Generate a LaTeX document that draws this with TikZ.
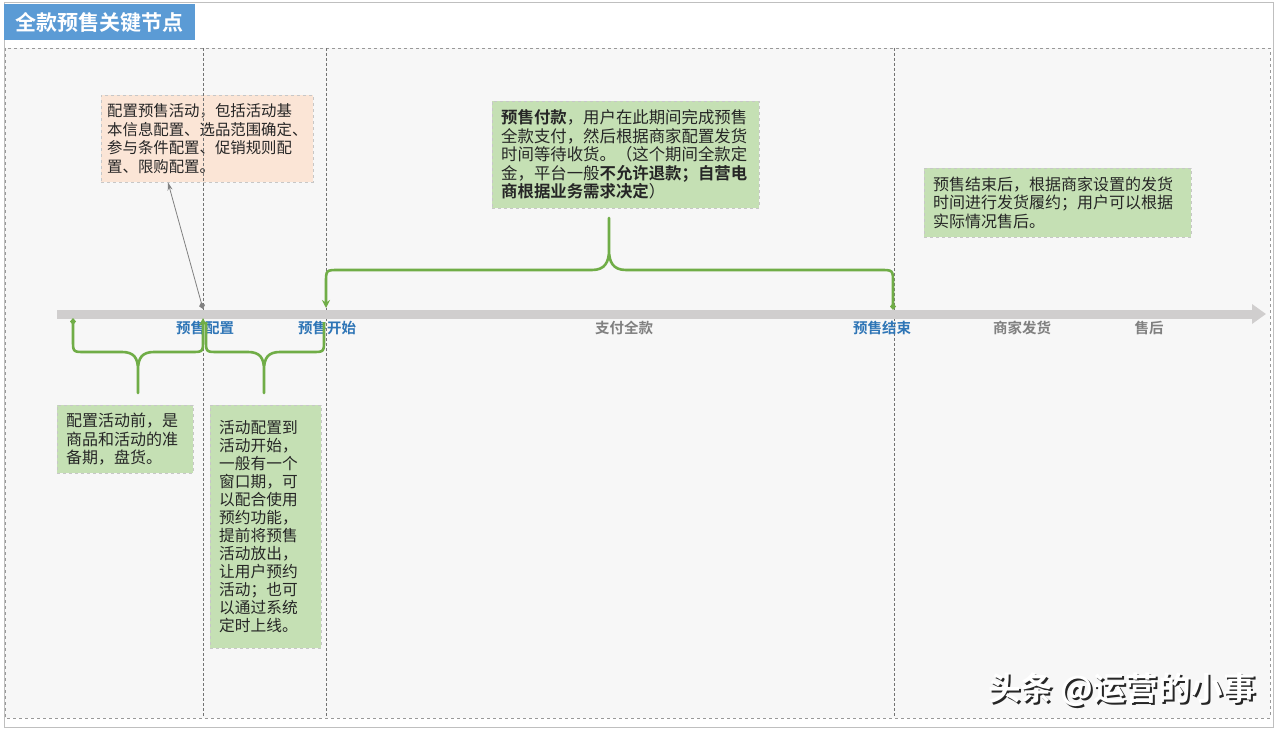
\documentclass[tikz,border=0pt]{standalone}
\usepackage{fontspec}
\setmainfont{Noto Sans CJK SC}[BoldFont={Noto Sans CJK SC Bold}]
\usepackage{xcolor}
\definecolor{titleblue}{RGB}{91, 155, 213}
\definecolor{stageblue}{RGB}{46, 117, 182}
\definecolor{bracegreen}{RGB}{112, 173, 71}
\definecolor{notegreen}{RGB}{197, 224, 180}
\definecolor{notepeach}{RGB}{251, 229, 214}
\definecolor{axisgray}{RGB}{208, 206, 206}
\definecolor{panelgray}{RGB}{247, 247, 247}
\definecolor{inkgray}{RGB}{38, 38, 38}
\usepackage{tikz}
\usetikzlibrary{arrows.meta, calc}

\begin{document}
\begin{tikzpicture}[x=1pt, y=-1pt, >=Stealth,
    note/.style={draw=black!22, dashed, fill=notegreen, text=inkgray, align=left,
        anchor=north west, inner xsep=9pt, inner ysep=5pt,
        font=\fontsize{16}{18.5}\selectfont},
    stage/.style={font=\fontsize{14.5}{16}\selectfont\bfseries, text=stageblue},
    phase/.style={font=\fontsize{14.5}{16}\selectfont\bfseries, text=black!50},
    brace/.style={bracegreen, line width=2.6pt, line join=round}]
    \useasboundingbox (0,0) rectangle (1277,730);

    % frame and panel
    \draw[black!25, line width=1pt] (4,3) rectangle (1273,727);
    \draw[black!40, dashed, fill=panelgray] (5,48) rectangle (1270,718);
    \node[fill=titleblue, text=white, anchor=north west, minimum width=191pt, minimum height=36pt,
        inner sep=0pt, font=\fontsize{21}{24}\selectfont\bfseries] (title) at (4,4) {全款预售关键节点};

    \coordinate (cfg) at (203,314);
    \coordinate (start) at (326,314);
    \coordinate (end) at (894,314);
    \coordinate (axisL) at (57,314);
    \coordinate (axisR) at (1266,314);

    % notes
    \node[note, fill=notepeach, inner xsep=6pt, text width=200pt, minimum height=87pt,
        font=\fontsize{15.4}{18.5}\selectfont] (setup) at (101,95)
        {配置预售活动，包括活动基\\本信息配置、选品范围确定、\\参与条件配置、促销规则配\\置、限购配置。};
    \node[note, text width=249pt, minimum height=107pt, font=\fontsize{16.4}{18.5}\selectfont] (pay) at (492,101)
        {\textbf{预售付款}，用户在此期间完成预售\\全款支付，然后根据商家配置发货\\时间等待收货。（这个期间全款定\\金，平台一般\textbf{不允许退款；自营电}\\\textbf{商根据业务需求决定}）};
    \node[note, text width=249pt, minimum height=69pt] (after) at (924,168)
        {预售结束后，根据商家设置的发货\\时间进行发货履约；用户可以根据\\实际情况售后。};
    \node[note, text width=118pt, minimum height=68pt] (prep) at (57,405)
        {配置活动前，是\\商品和活动的准\\备期，盘货。};
    \node[note, text width=93pt, minimum height=243pt, font=\fontsize{15.7}{18}\selectfont] (window) at (210,405)
        {活动配置到\\活动开始，\\一般有一个\\窗口期，可\\以配合使用\\预约功能，\\提前将预售\\活动放出，\\让用户预约\\活动；也可\\以通过系统\\定时上线。};

    % milestones
    \foreach \p in {cfg, start, end}
        \draw[black!55, dash pattern=on 3pt off 2pt] (\p |- 0,48) -- (\p |- 0,716);

    % timeline
    \draw[axisgray, line width=9pt, -{Triangle[length=14pt, width=19pt]}] (axisL) -- (axisR);
    \draw[black!50, line width=0.8pt, {Diamond[length=7pt, width=6pt]}-{Stealth[length=8pt, width=5pt]}]
        ($(cfg)+(0,-5)$) -- ($(setup.south west)+(67,0)$);

    \node[stage] (cfglbl) at (205,328) {预售配置};
    \node[stage] (startlbl) at (327,328) {预售开始};
    \node[phase] (paylbl) at (624,328) {支付全款};
    \node[stage] (endlbl) at (882,328) {预售结束};
    \node[phase] (shiplbl) at (1022,328) {商家发货};
    \node[phase] (servlbl) at (1149,328) {售后};

    % braces
    \draw[brace, {Stealth[length=8pt, width=8pt]}-{Diamond[length=7pt, width=6pt]}]
        ($(start)+(0,-6)$) -- (326,283) .. controls (326,270) .. (339,270) -- (592,270)
        .. controls (605,270) and (609,262) .. (609,250) -- (609,218) -- (609,250)
        .. controls (609,262) and (613,270) .. (626,270) -- (880,270)
        .. controls (893,270) .. (893,283) -- ($(end)+(-1,-4)$);
    \draw[brace, {Diamond[length=7pt, width=6pt]}-{Stealth[length=8pt, width=8pt]}]
        (73,318) -- (73,340) .. controls (73,352) .. (85,352) -- (122,352)
        .. controls (134,352) and (138,358) .. (138,370) -- (138,393) -- (138,370)
        .. controls (138,358) and (142,352) .. (154,352) -- (191,352)
        .. controls (203,352) .. (203,340) -- ($(cfg)+(0,4)$);
    \draw[brace]
        (206,322) -- (206,340) .. controls (206,352) .. (218,352) -- (248,352)
        .. controls (260,352) and (264,358) .. (264,370) -- (264,393) -- (264,370)
        .. controls (264,358) and (268,352) .. (280,352) -- (312,352)
        .. controls (324,352) .. (324,340) -- (324,322);

    % watermark
    \node[text=black!85, font=\fontsize{32.5}{36}\selectfont\bfseries] (markshade) at (1124,691.5) {头条 @运营的小事};
    \node[text=white, font=\fontsize{32.5}{36}\selectfont\bfseries] (mark) at (1122,689.5) {头条 @运营的小事};
\end{tikzpicture}
\end{document}
